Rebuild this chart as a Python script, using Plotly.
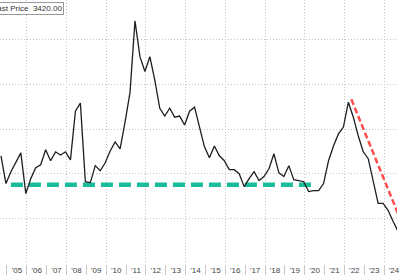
import plotly.graph_objects as go

# Quarterly observations (fractional-year x positions)
start_year = 2004.7
values = [6800, 5560, 6090, 6490, 6930, 5110, 5780, 6270, 6400, 7070,
          6580, 6980, 6840, 6980, 6620, 8800, 9160, 5640, 5600, 6360,
          6130, 6490, 7020, 7420, 7110, 8310, 9640, 12840, 11240, 10580,
          11240, 10180, 8930, 8580, 8930, 8530, 8580, 8180, 8800, 8980,
          8090, 7200, 6710, 7240, 6800, 6580, 6180, 6180, 6000, 5420,
          5780, 6090, 5690, 5870, 6220, 6890, 6040, 5870, 6360, 5730,
          5690, 5640, 5200, 5240, 5240, 5560, 6580, 7240, 7780, 8090,
          9200, 8530, 7690, 6980, 6670, 5690, 4670, 4670, 4360, 3870]
dates = [start_year + 0.25 * i for i in range(len(values))]
dates.append(2024.7)
values.append(3420)

support_x = [2005.2, 2020.55]
support_y = [5510, 5510]
trend_x = [2022.35, 2024.9]
trend_y = [9330, 3780]

year_labels = ["'05", "'06", "'07", "'08", "'09", "'10", "'11", "'12", "'13", "'14",
               "'15", "'16", "'17", "'18", "'19", "'20", "'21", "'22", "'23", "'24"]
label_pos = [2005.5 + i for i in range(len(year_labels))]
year_bounds = [2005 + i for i in range(len(year_labels) + 1)]
grid_years = [2006, 2008, 2010, 2012, 2014, 2016, 2018, 2020, 2022, 2024]
y_grid = [2000, 4000, 6000, 8000, 10000, 12000]

xr = [2004.65, 2024.65]
grid_col = "#c4c4c4"

fig = go.Figure()
fig.add_trace(go.Scatter(x=support_x, y=support_y, mode="lines",
                         line=dict(color="#1abc9c", width=4.5, dash="12px,6px"),
                         hoverinfo="skip"))
fig.add_trace(go.Scatter(x=trend_x, y=trend_y, mode="lines",
                         line=dict(color="#ff4d4d", width=2.5, dash="6px,3px"),
                         hoverinfo="skip"))
fig.add_trace(go.Scatter(x=dates, y=values, mode="lines",
                         line=dict(color="#1e1e1e", width=1.3)))

fig.update_layout(
    width=400, height=275,
    margin=dict(l=0, r=0, t=0, b=9),
    paper_bgcolor="white", plot_bgcolor="white",
    showlegend=False,
    xaxis=dict(range=xr, tickmode="array", tickvals=label_pos, ticktext=year_labels,
               ticks="", showgrid=False, zeroline=False, showline=False,
               ticklabeloverflow="allow",
               tickfont=dict(family="Liberation Sans", size=8, color="#444"),
               minor=dict(tickmode="array", tickvals=year_bounds, ticks="outside",
                          ticklen=10, tickcolor="#c8c8c8", tickwidth=1, showgrid=False)),
    xaxis2=dict(range=xr, overlaying="x", anchor="y", side="bottom",
                tickmode="array", tickvals=grid_years, showticklabels=False, ticks="",
                showgrid=True, gridcolor=grid_col, gridwidth=1, griddash="1px,2px",
                zeroline=False, showline=False),
    yaxis=dict(range=[1956, 13778], tickmode="array", tickvals=y_grid,
               showticklabels=False, ticks="", showgrid=True, gridcolor=grid_col,
               gridwidth=1, griddash="1px,2px", zeroline=False, showline=False),
    annotations=[dict(xref="paper", yref="paper", x=64 / 400, y=1 - 2 / 266,
                      xanchor="right", yanchor="top", showarrow=False,
                      text="Index  - Last Price  3420.00",
                      font=dict(family="Liberation Sans", size=8, color="#333"),
                      bordercolor="#999", borderwidth=1, borderpad=1,
                      bgcolor="white")],
)
# attach an invisible trace to xaxis2 so the overlay axis is drawn
fig.add_trace(go.Scatter(x=[xr[0]], y=[values[0]], xaxis="x2", mode="markers",
                         marker=dict(opacity=0), hoverinfo="skip"))
fig.write_html("out.html")
